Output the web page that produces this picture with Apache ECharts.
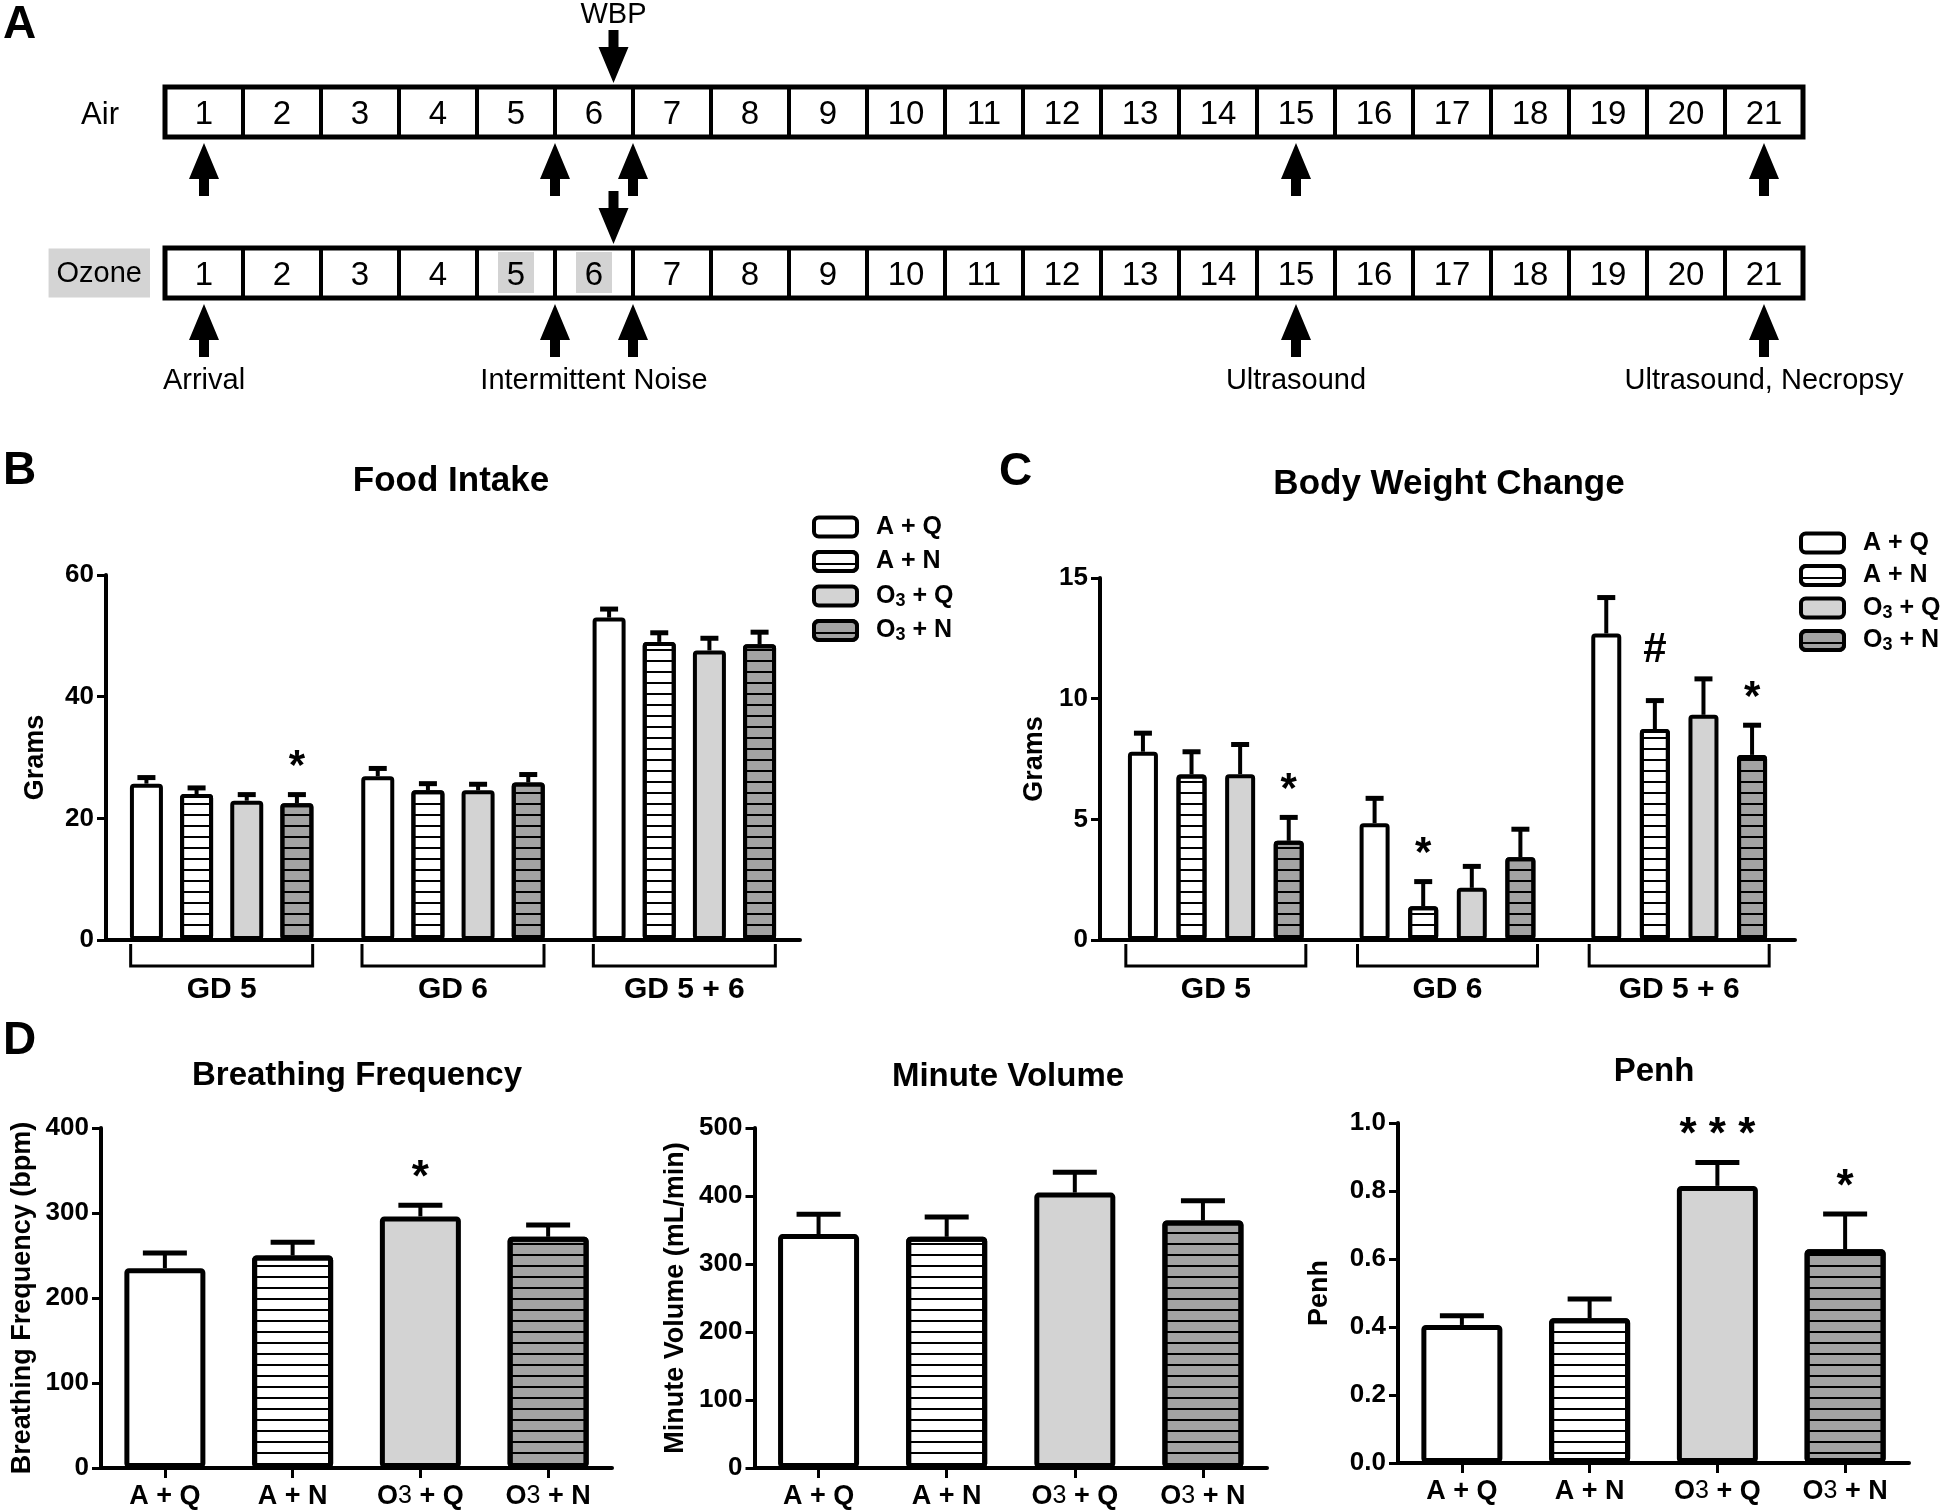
<!DOCTYPE html>
<html><head><meta charset="utf-8">
<script src="https://cdn.jsdelivr.net/npm/echarts@6/dist/echarts.min.js"></script>
<style>html,body{margin:0;padding:0;background:#fff}#c{width:1946px;height:1512px}</style>
</head><body><div id="c"></div>
<script>
// ---------- Panel A : timeline ----------
const days = [1,2,3,4,5,6,7,8,9,10,11,12,13,14,15,16,17,18,19,20,21];
const rows = ['Air', 'Ozone'];
const ozoneShadedDays = [5, 6];
const procedureArrowDays = [1, 5.5, 6.5, 15, 21];
const wbpArrowDay = 6.25;
const wbpLabel = 'WBP';
const eventLabels = ['Arrival', 'Intermittent Noise', 'Ultrasound', 'Ultrasound, Necropsy'];
const eventLabelDays = [1, 6, 15, 21];

// ---------- Groups ----------
const groups = ['A + Q', 'A + N', 'O\u2083 + Q', 'O\u2083 + N'];
const gdCategories = ['GD 5', 'GD 6', 'GD 5 + 6'];

// ---------- Panel B : Food intake (g) ----------
const foodAQ  = [25.7, 26.9, 53.0];
const foodAN  = [24.0, 24.6, 49.0];
const foodO3Q = [22.9, 24.6, 47.6];
const foodO3N = [22.5, 25.9, 48.6];
const foodAQsem  = [1.0, 1.3, 1.4];
const foodANsem  = [1.0, 1.1, 1.5];
const foodO3Qsem = [1.0, 1.0, 2.0];
const foodO3Nsem = [1.4, 1.3, 2.0];
const foodMarks = [[0, 3, '*']];           // [category, group, mark]
const foodTicks = [0, 60, 20];             // min, max, interval

// ---------- Panel C : Body weight change (g) ----------
const bwAQ  = [7.8, 4.84, 12.7];
const bwAN  = [6.86, 1.4, 8.74];
const bwO3Q = [6.87, 2.16, 9.33];
const bwO3N = [4.11, 3.43, 7.67];
const bwAQsem  = [0.77, 1.03, 1.49];
const bwANsem  = [0.94, 1.02, 1.18];
const bwO3Qsem = [1.23, 0.89, 1.49];
const bwO3Nsem = [0.97, 1.16, 1.23];
const bwMarks = [[0, 3, '*'], [1, 1, '*'], [2, 1, '#'], [2, 3, '*']];
const bwTicks = [0, 15, 5];

// ---------- Panel D : WBP ----------
const bfMean = [235, 250, 296, 272];
const bfSem  = [18, 15.5, 13, 14];
const bfMarks = [[2, '*']];
const bfTicks = [0, 400, 100];

const mvMean = [344, 340, 405, 364];
const mvSem  = [29, 29, 30, 29];
const mvMarks = [];
const mvTicks = [0, 500, 100];

const penhMean = [0.406, 0.426, 0.815, 0.629];
const penhSem  = [0.027, 0.056, 0.069, 0.103];
const penhMarks = [[2, '* * *'], [3, '*']];
const penhTicks = [0, 1, 0.2];

// ---------- styles ----------
const FONT = '"Liberation Sans", Arial, Helvetica, sans-serif';
const groupFill = ['#ffffff', '#ffffff', '#d3d3d3', '#a3a3a3'];
const stripe = {symbol: 'rect', symbolSize: 1, dashArrayX: [1, 0], dashArrayY: [2, 9], rotation: 0, color: '#000'};
function groupItemStyle(i, bw) {
  const s = {color: groupFill[i], borderColor: '#000', borderWidth: bw, borderRadius: 2};
  if (i === 1 || i === 3) s.decal = stripe;
  return s;
}

const chart = echarts.init(document.getElementById('c'), null, {renderer: 'canvas', width: 1946, height: 1512});

// ---------- grids ----------
const grids = [
  {left: 165, top: 31.5, width: 1638, height: 322},   // A
  {left: 106, top: 575, width: 694, height: 365},     // B
  {left: 1100, top: 578, width: 695, height: 362},    // C
  {left: 101, top: 1128, width: 511, height: 340},    // D1
  {left: 754.5, top: 1128, width: 512.5, height: 340},// D2
  {left: 1398, top: 1123, width: 511, height: 340}    // D3
];

const axisLineStyle = {color: '#000', width: 4};
function valueAxis(gi, ticks, name, nameGap, fmt) {
  return {
    gridIndex: gi, type: 'value', min: ticks[0], max: ticks[1], interval: ticks[2],
    axisLine: {show: true, lineStyle: axisLineStyle},
    axisTick: {show: true, length: 9, lineStyle: {color: '#000', width: 3}},
    splitLine: {show: false},
    axisLabel: {fontSize: 26, fontWeight: 'bold', color: '#000', fontFamily: FONT, margin: 12, formatter: fmt},
    name: name, nameLocation: 'middle', nameGap: nameGap,
    nameTextStyle: {fontSize: 27, fontWeight: 'bold', color: '#000', fontFamily: FONT}
  };
}
function gdAxis(gi) {
  return {
    gridIndex: gi, type: 'category', data: gdCategories,
    axisLine: {lineStyle: axisLineStyle}, axisTick: {show: false},
    axisLabel: {interval: 0, margin: 35, fontSize: 30, fontWeight: 'bold', color: '#000', fontFamily: FONT}
  };
}
function groupAxis(gi) {
  return {
    gridIndex: gi, type: 'category', data: groups,
    axisLine: {lineStyle: axisLineStyle},
    axisTick: {show: true, alignWithLabel: true, interval: 0, length: 10, lineStyle: {color: '#000', width: 3}},
    axisLabel: {
      interval: 0, margin: 15, fontSize: 27, fontWeight: 'bold', color: '#000', fontFamily: FONT,
      formatter: v => v.replace('O\u2083', 'O{n|3}'),
      rich: {n: {fontSize: 25, fontWeight: 'normal', color: '#000', fontFamily: FONT}}
    }
  };
}

const xAxis = [
  {gridIndex: 0, type: 'value', min: days[0] - 0.5, max: days[days.length - 1] + 0.5, show: false},
  gdAxis(1), gdAxis(2), groupAxis(3), groupAxis(4), groupAxis(5)
];
const yAxis = [
  {gridIndex: 0, type: 'category', data: rows, inverse: true,
   axisLine: {show: false}, axisTick: {show: false}, splitLine: {show: false},
   axisLabel: {margin: 15, formatter: v => v === 'Ozone' ? '{oz|Ozone}' : '{air|Air}',
     rich: {
       air: {fontSize: 31, fontFamily: FONT, color: '#000', padding: [6, 31, 0, 0]},
       oz: {fontSize: 29, fontFamily: FONT, color: '#000', backgroundColor: '#d4d4d4', padding: [11, 8, 9, 8]}
     }}},
  valueAxis(1, foodTicks, 'Grams', 57),
  valueAxis(2, bwTicks, 'Grams', 52),
  valueAxis(3, bfTicks, 'Breathing Frequency (bpm)', 65),
  valueAxis(4, mvTicks, 'Minute Volume (mL/min)', 65),
  valueAxis(5, penhTicks, 'Penh', 65, v => v.toFixed(1))
];

const series = [];

// ---------- Panel A series ----------
const ROW_H = 50;
const cellData = [];
rows.forEach((r, ri) => days.forEach(d => cellData.push([d, ri])));
series.push({
  type: 'custom', xAxisIndex: 0, yAxisIndex: 0, data: cellData, clip: false, silent: true, z: 2,
  renderItem: (params, api) => {
    const d = api.value(0), ri = api.value(1);
    const pL = api.coord([d - 0.5, ri]), pR = api.coord([d + 0.5, ri]), pc = api.coord([d, ri]);
    const cy = pc[1];
    const children = [{type: 'rect', shape: {x: pL[0], y: cy - ROW_H / 2, width: pR[0] - pL[0], height: ROW_H},
      style: {fill: '#fff', stroke: '#000', lineWidth: 4}}];
    if (rows[ri] === 'Ozone' && ozoneShadedDays.indexOf(d) >= 0) {
      children.push({type: 'rect', shape: {x: pc[0] - 18, y: cy - 21, width: 36, height: 41}, style: {fill: '#d3d3d3'}});
    }
    children.push({type: 'text', style: {text: String(d), x: pc[0], y: cy + 3, font: '33px ' + FONT, fill: '#000', align: 'center', verticalAlign: 'middle'}});
    return {type: 'group', children};
  }
});
series.push({
  type: 'custom', xAxisIndex: 0, yAxisIndex: 0, clip: false, silent: true, z: 3,
  data: rows.map((r, ri) => [days[0] - 0.5, ri, days[days.length - 1] + 0.5]),
  renderItem: (params, api) => {
    const p0 = api.coord([api.value(0), api.value(1)]), p1 = api.coord([api.value(2), api.value(1)]);
    return {type: 'rect', shape: {x: p0[0], y: p0[1] - ROW_H / 2, width: p1[0] - p0[0], height: ROW_H},
      style: {fill: null, stroke: '#000', lineWidth: 5}};
  }
});
function arrowPoints(x, tipY, s) {
  const HH = 36, HW = 30, SW = 10, LEN = 53;
  const yb = tipY + s * HH, ye = tipY + s * LEN;
  return [[x, tipY], [x + HW / 2, yb], [x + SW / 2, yb], [x + SW / 2, ye], [x - SW / 2, ye], [x - SW / 2, yb], [x - HW / 2, yb]];
}
const arrowData = [];
rows.forEach((r, ri) => {
  procedureArrowDays.forEach(d => arrowData.push([d, ri, 1]));
  arrowData.push([wbpArrowDay, ri, -1]);
});
series.push({
  type: 'custom', xAxisIndex: 0, yAxisIndex: 0, data: arrowData, clip: false, silent: true, z: 4,
  renderItem: (params, api) => {
    const p = api.coord([api.value(0), api.value(1)]);
    const dir = api.value(2);
    const tipY = dir > 0 ? p[1] + ROW_H / 2 + 6 : p[1] - ROW_H / 2 - 4;
    return {type: 'polygon', shape: {points: arrowPoints(p[0], tipY, dir)}, style: {fill: '#000'}};
  }
});
series.push({
  type: 'custom', xAxisIndex: 0, yAxisIndex: 0, clip: false, silent: true, z: 4,
  data: [[wbpArrowDay, 0]].concat(eventLabelDays.map(d => [d, 1])),
  renderItem: (params, api) => {
    const p = api.coord([api.value(0), api.value(1)]);
    const i = params.dataIndex;
    const txt = i === 0 ? wbpLabel : eventLabels[i - 1];
    const y = i === 0 ? p[1] - 97 : p[1] + 108;
    return {type: 'text', style: {text: txt, x: p[0], y: y, font: '29px ' + FONT, fill: '#000', align: 'center', verticalAlign: 'middle'}};
  }
});

// ---------- grouped bars (B, C) ----------
function offsetFor(api, count, bw, gapPct, si) {
  if (count <= 1) return 0;
  if (api.barLayout) {
    const lay = api.barLayout({count: count, barWidth: bw, barGap: gapPct + '%'});
    if (lay && lay[si]) return lay[si].offsetCenter;
  }
  const gap = bw * gapPct / 100;
  return (si - (count - 1) / 2) * (bw + gap);
}
function errSeries(gi, data, count, bw, gapPct, capW, lw) {
  return {
    type: 'custom', xAxisIndex: gi, yAxisIndex: gi, data: data, clip: false, silent: true, z: 3,
    renderItem: (params, api) => {
      const c = api.value(0), m = api.value(1), t = api.value(2), si = api.value(3) || 0;
      const p0 = api.coord([c, m]), p1 = api.coord([c, t]);
      const x = p0[0] + offsetFor(api, count, bw, gapPct, si);
      return {type: 'group', children: [
        {type: 'line', shape: {x1: x, y1: p0[1], x2: x, y2: p1[1]}, style: {stroke: '#000', lineWidth: lw}},
        {type: 'line', shape: {x1: x - capW / 2, y1: p1[1], x2: x + capW / 2, y2: p1[1]}, style: {stroke: '#000', lineWidth: lw + 1}}
      ]};
    }
  };
}
function markSeries(gi, marks, tops, count, bw, gapPct, fontSize) {
  return {
    type: 'custom', xAxisIndex: gi, yAxisIndex: gi, clip: false, silent: true, z: 5,
    data: marks.map(m => [m[0], tops(m), m.length > 2 ? m[1] : 0]),
    renderItem: (params, api) => {
      const m = marks[params.dataIndex];
      const txt = m[m.length - 1];
      const p = api.coord([api.value(0), api.value(1)]);
      const x = p[0] + offsetFor(api, count, bw, gapPct, api.value(2));
      const isHash = txt === '#';
      const y = p[1] - (isHash ? 50 : 36) + (isHash ? 0 : fontSize * 0.22);
      return {type: 'text', style: {text: txt, x: x, y: y, font: 'bold ' + fontSize + 'px ' + FONT, fill: '#000', align: 'center', verticalAlign: 'middle'}};
    }
  };
}
function bracketSeries(gi, half) {
  return {
    type: 'custom', xAxisIndex: gi, yAxisIndex: gi, clip: false, silent: true, z: 3,
    data: gdCategories.map((c, i) => [i, 0]),
    renderItem: (params, api) => {
      const p = api.coord([api.value(0), 0]);
      const x0 = p[0] - half, x1 = p[0] + half, y0 = p[1] + 4, y1 = p[1] + 26;
      return {type: 'polyline', shape: {points: [[x0, y0], [x0, y1], [x1, y1], [x1, y0]]}, style: {stroke: '#000', lineWidth: 3, fill: null}};
    }
  };
}
function groupedPanel(gi, means, sems, marks, bw, gapPct, border, capW, half) {
  means.forEach((arr, si) => {
    series.push({type: 'bar', name: groups[si], xAxisIndex: gi, yAxisIndex: gi, data: arr,
      barWidth: bw, barGap: gapPct + '%', itemStyle: groupItemStyle(si, border), silent: true, z: 2});
  });
  const ed = [];
  means.forEach((arr, si) => arr.forEach((v, c) => ed.push([c, v, v + sems[si][c], si])));
  series.push(errSeries(gi, ed, 4, bw, gapPct, capW, 4));
  series.push(markSeries(gi, marks, m => means[m[1]][m[0]] + sems[m[1]][m[0]], 4, bw, gapPct, 42));
  series.push(bracketSeries(gi, half));
}
groupedPanel(1, [foodAQ, foodAN, foodO3Q, foodO3N], [foodAQsem, foodANsem, foodO3Qsem, foodO3Nsem], foodMarks, 33, 52, 4, 18, 91);
groupedPanel(2, [bwAQ, bwAN, bwO3Q, bwO3N], [bwAQsem, bwANsem, bwO3Qsem, bwO3Nsem], bwMarks, 30, 62, 4, 18, 90);

// ---------- single bars (D) ----------
function singlePanel(gi, name, mean, sem, marks) {
  series.push({type: 'bar', name: name, xAxisIndex: gi, yAxisIndex: gi, barWidth: 81, silent: true, z: 2,
    data: mean.map((v, i) => ({value: v, itemStyle: groupItemStyle(i, 5)}))});
  series.push(errSeries(gi, mean.map((v, i) => [i, v, v + sem[i], 0]), 1, 81, 0, 44, 4));
  series.push(markSeries(gi, marks, m => mean[m[0]] + sem[m[0]], 1, 81, 0, 44));
}
singlePanel(3, 'Breathing Frequency', bfMean, bfSem, bfMarks);
singlePanel(4, 'Minute Volume', mvMean, mvSem, mvMarks);
singlePanel(5, 'Penh', penhMean, penhSem, penhMarks);

// ---------- legends ----------
function legend(left, top, gap) {
  return {
    left: left, top: top, orient: 'vertical', padding: 0, itemWidth: 43, itemHeight: 19, itemGap: gap,
    icon: 'roundRect', selectedMode: false, data: groups,
    itemStyle: {borderColor: '#000', borderWidth: 4},
    formatter: n => n.replace('O\u2083', 'O{sub|3}'),
    textStyle: {fontSize: 25, lineHeight: 28, fontWeight: 'bold', color: '#000', fontFamily: FONT, padding: [0, 0, 0, 14],
      rich: {sub: {fontSize: 18, lineHeight: 14, verticalAlign: 'bottom', fontWeight: 'bold', color: '#000', fontFamily: FONT}}}
  };
}

// ---------- titles / panel letters ----------
const titles = [
  ['Food Intake', 451, 481, 35], ['Body Weight Change', 1449, 484, 35],
  ['Breathing Frequency', 357, 1076, 33], ['Minute Volume', 1008, 1077, 33], ['Penh', 1654, 1072, 33]
];
const letters = [['A', 3, 25], ['B', 3, 471], ['C', 999, 472], ['D', 3, 1041]];
const graphic = titles.map(t => ({type: 'text', silent: true,
  style: {text: t[0], x: t[1], y: t[2], font: 'bold ' + t[3] + 'px ' + FONT, fill: '#000', align: 'center', verticalAlign: 'middle'}}))
  .concat(letters.map(t => ({type: 'text', silent: true,
  style: {text: t[0], x: t[1], y: t[2], font: 'bold 46px ' + FONT, fill: '#000', align: 'left', verticalAlign: 'middle'}})));

chart.setOption({
  backgroundColor: '#fff',
  animation: false,
  textStyle: {fontFamily: FONT},
  grid: grids,
  xAxis: xAxis,
  yAxis: yAxis,
  legend: [legend(812, 513, 6.5), legend(1799, 529, 4.5)],
  graphic: graphic,
  series: series
});
</script>
</body></html>
